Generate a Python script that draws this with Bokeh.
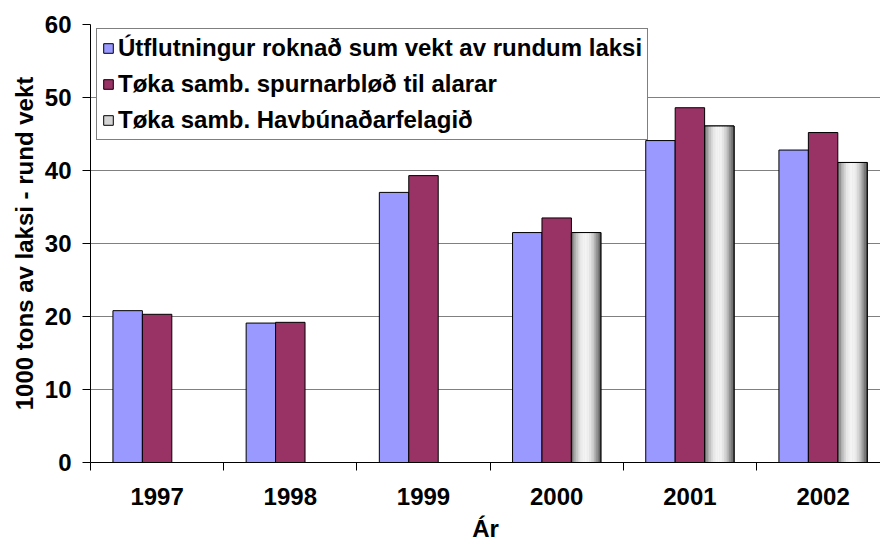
from bokeh.plotting import figure
from bokeh.models import Range1d, FixedTicker, Legend, LegendItem, ColumnDataSource, Title
from bokeh.embed import file_html
from bokeh.resources import INLINE

# ---- data ----
years = ["1997", "1998", "1999", "2000", "2001", "2002"]
export_round = [20.8, 19.1, 37.0, 31.5, 44.1, 42.8]
survey_farmers = [20.3, 19.2, 39.3, 33.5, 48.6, 45.2]
havbun = [None, None, None, 31.5, 46.1, 41.1]
series_names = [
    "Útflutningur roknað sum vekt av rundum laksi",
    "Tøka samb. spurnarbløð til alarar",
    "Tøka samb. Havbúnaðarfelagið",
]
y_ticks = [0, 10, 20, 30, 40, 50, 60]
x_title = "Ár"
y_title = "1000 tons av laksi - rund vekt"

FONT = "Liberation Sans"
FS = "24px"
BLUE = "#9999FF"
PURPLE = "#993366"
GRID = "#808080"

n = len(years)
centers = [i + 0.5 for i in range(n)]
bw = 0.221
x_end = 5.931

p = figure(width=880, height=547, output_backend="svg", toolbar_location=None,
           x_range=Range1d(0, x_end), y_range=Range1d(0, 60),
           min_border_left=90, min_border_right=0, min_border_top=24, min_border_bottom=85)
p.outline_line_color = None
p.background_fill_color = "white"
p.border_fill_color = "white"
p.xgrid.grid_line_color = None
p.ygrid.grid_line_color = GRID
p.ygrid.grid_line_width = 1

src_b = ColumnDataSource(dict(x=[c - bw for c in centers], top=export_round))
src_p = ColumnDataSource(dict(x=centers, top=survey_farmers))
gx = [c + bw for c, v in zip(centers, havbun) if v is not None]
gt = [v for v in havbun if v is not None]
src_g = ColumnDataSource(dict(x=gx, top=gt))

r_b = p.vbar(x="x", top="top", width=bw, source=src_b, fill_color=BLUE,
             line_color="black", line_width=1)
r_p = p.vbar(x="x", top="top", width=bw, source=src_p, fill_color=PURPLE,
             line_color="black", line_width=1)
r_g = p.vbar(x="x", top="top", width=bw, source=src_g, fill_color="#d4d4d4",
             line_color="black", line_width=1)

# cylinder-like shading of the grey bars, built as thin strips of each bar
stops = [(0.0, 95), (0.12, 170), (0.3, 230), (0.45, 245), (0.6, 238),
         (0.75, 200), (0.88, 140), (1.0, 80)]

def shade(t):
    for (t0, v0), (t1, v1) in zip(stops[:-1], stops[1:]):
        if t0 <= t <= t1:
            v = v0 + (v1 - v0) * (t - t0) / (t1 - t0)
            v = int(round(v))
            return "#%02x%02x%02x" % (v, v, v)
    return "#ffffff"

N = 18
sx, st, sc = [], [], []
for x0, top in zip(gx, gt):
    for k in range(N):
        t = (k + 0.5) / N
        sx.append(x0 - bw / 2 + t * bw)
        st.append(top)
        sc.append(shade(t))
p.vbar(x=sx, top=st, width=bw / N * 1.15, fill_color=sc, line_color=None)
p.vbar(x="x", top="top", width=bw, source=src_g, fill_color=None,
       line_color="black", line_width=1)

# axes
xa = p.xaxis[0]
xa.ticker = FixedTicker(ticks=centers, minor_ticks=[float(i) for i in range(n)])
xa.major_label_overrides = {c: y for c, y in zip(centers, years)}
xa.major_tick_in = 0
xa.major_tick_out = 0
xa.minor_tick_in = 0
xa.minor_tick_out = 8
xa.minor_tick_line_color = "black"
xa.axis_line_color = "black"
xa.major_label_standoff = 17
xa.major_label_text_font = FONT
xa.major_label_text_font_style = "bold"
xa.major_label_text_font_size = FS
xa.major_label_text_color = "black"

# x-axis title as a title panel below the axis
p.add_layout(Title(text=x_title, align="center", text_font=FONT, text_font_style="bold",
                   text_font_size=FS, text_color="black", standoff=10, offset=0), "below")

ya = p.yaxis[0]
ya.ticker = FixedTicker(ticks=y_ticks, minor_ticks=[])
ya.major_tick_in = 0
ya.major_tick_out = 8
ya.major_tick_line_color = "black"
ya.axis_line_color = "black"
ya.major_label_standoff = 11
ya.major_label_text_font = FONT
ya.major_label_text_font_style = "bold"
ya.major_label_text_font_size = FS
ya.major_label_text_color = "black"
ya.axis_label = y_title
ya.axis_label_text_font = FONT
ya.axis_label_text_font_style = "bold"
ya.axis_label_text_font_size = FS
ya.axis_label_text_color = "black"
ya.axis_label_standoff = 4

legend = Legend(items=[
    LegendItem(label=series_names[0], renderers=[r_b]),
    LegendItem(label=series_names[1], renderers=[r_p]),
    LegendItem(label=series_names[2], renderers=[r_g]),
], location=(6, 322))
legend.margin = 0
legend.padding = 5
legend.spacing = 8
legend.glyph_width = 12
legend.glyph_height = 12
legend.label_standoff = 4
legend.label_height = 27
legend.label_text_font = FONT
legend.label_text_font_style = "bold"
legend.label_text_font_size = FS
legend.label_text_color = "black"
legend.border_line_color = "black"
legend.border_line_width = 1
legend.background_fill_color = "white"
legend.background_fill_alpha = 1
p.add_layout(legend, "center")

open("out.html", "w").write(file_html(p, INLINE))
